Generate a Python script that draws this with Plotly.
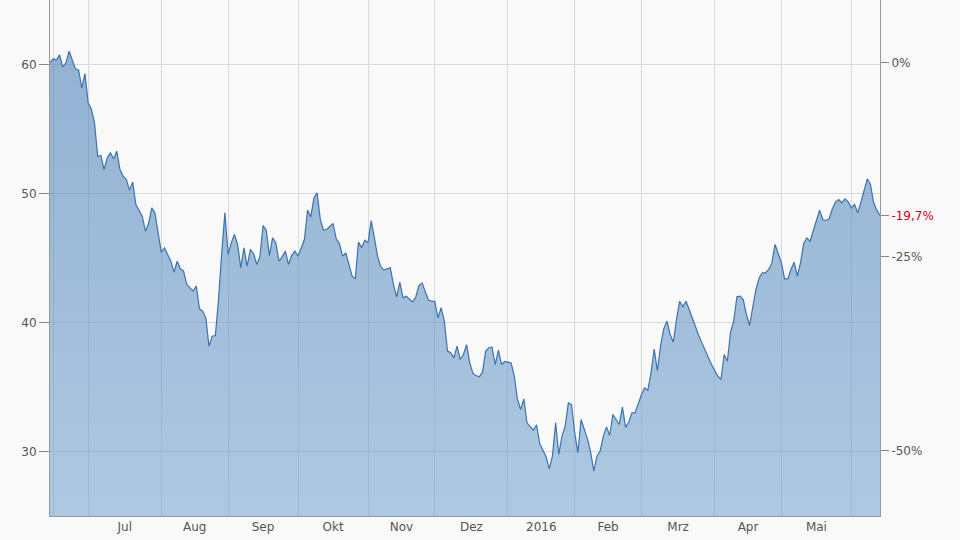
import plotly.graph_objects as go
import pandas as pd

# trading days (weekdays) covered by the chart
dates = pd.bdate_range("2015-06-15", "2016-06-14")

# closing prices, one per weekday
prices = [
    60.15, 60.44, 60.34, 60.75, 59.82, 60.13, 61.03, 60.26, 59.66, 59.56,
    58.19, 59.30, 57.03, 56.56, 55.48, 52.89, 52.95, 51.86, 52.77, 53.15,
    52.69, 53.28, 51.86, 51.34, 51.09, 50.26, 50.88, 49.15, 48.63, 48.24,
    47.08, 47.67, 48.89, 48.50, 46.95, 45.45, 45.79, 45.27, 44.75, 43.90,
    44.75, 44.16, 43.98, 42.95, 42.69, 42.43, 42.82, 41.06, 40.88, 40.36,
    38.16, 38.94, 38.99, 41.78, 45.40, 48.50, 45.27, 46.17, 46.82, 46.04,
    44.23, 45.79, 44.36, 45.66, 45.35, 44.50, 45.09, 47.52, 47.16, 45.19,
    46.56, 46.18, 44.75, 45.09, 45.53, 44.50, 45.19, 45.53, 45.14, 45.79,
    46.43, 48.71, 48.19, 49.66, 50.05, 47.98, 47.16, 47.21, 47.42, 47.67,
    46.49, 46.12, 45.14, 45.40, 44.50, 43.59, 43.38, 46.23, 45.79, 46.38,
    46.18, 47.90, 46.56, 45.14, 44.32, 44.06, 44.16, 44.24, 42.95, 41.99,
    43.13, 41.91, 42.04, 41.78, 41.60, 41.96, 42.87, 43.07, 42.43, 41.73,
    41.65, 41.63, 40.36, 41.14, 40.10, 37.78, 37.65, 37.26, 38.17, 37.13,
    37.52, 38.29, 36.87, 36.05, 35.89, 35.79, 36.15, 37.78, 38.04, 38.09,
    36.74, 37.86, 36.74, 36.98, 36.93, 36.87, 35.84, 34.03, 33.26, 34.08,
    32.22, 31.96, 31.65, 32.07, 30.62, 30.10, 29.59, 28.66, 29.64, 32.22,
    29.77, 31.19, 31.96, 33.77, 33.64, 31.45, 29.90, 32.48, 31.76, 30.98,
    29.95, 28.48, 29.64, 30.03, 31.19, 31.91, 31.24, 32.87, 32.48, 32.09,
    33.44, 31.89, 32.27, 33.00, 33.00, 33.77, 34.42, 34.93, 34.75, 36.10,
    37.93, 36.26, 38.17, 39.51, 40.10, 39.07, 38.47, 40.23, 41.65, 41.21,
    41.65, 41.01, 40.28, 39.59, 38.99, 38.42, 37.85, 37.26, 36.74, 36.30,
    35.85, 35.58, 37.52, 37.00, 39.25, 40.10, 41.99, 42.04, 41.78, 40.62,
    39.77, 41.21, 42.56, 43.46, 43.85, 43.85, 44.11, 44.62, 46.05, 45.35,
    44.62, 43.38, 43.38, 44.11, 44.68, 43.59, 44.62, 46.12, 46.56, 46.30,
    47.08, 47.93, 48.71, 47.98, 47.91, 48.04, 48.81, 49.33, 49.53, 49.28,
    49.59, 49.35, 48.89, 49.15, 48.50, 49.33, 50.26, 51.14, 50.70, 49.28,
    48.71, 48.30,
]

# trading-day index where each month gridline sits
month_starts = [1, 12, 35, 56, 78, 100, 121, 144, 165, 186, 209, 230, 252]
month_labels = ["Jul", "Aug", "Sep", "Okt", "Nov", "Dez", "2016", "Feb", "Mrz", "Apr", "Mai"]

left_ticks = [30, 40, 50, 60]
right_ticks = [0, -25, -50]
right_tick_text = ["0%", "-25%", "-50%"]

n = min(len(prices), len(dates))
idx = list(range(n))
prices = prices[:n]

base = prices[0]
pct = [(p / base - 1) * 100 for p in prices]
last_pct = pct[-1]
last_label = ("%.1f%%" % last_pct).replace(".", ",")

label_pos = [(month_starts[k] + month_starts[k + 1]) / 2 for k in range(1, len(month_starts) - 1)]

y_lo, y_hi = 25, 65

fig = go.Figure()
fig.add_trace(go.Scatter(
    x=idx, y=prices, mode="lines",
    line=dict(color="#3a74b0", width=1.2),
    fill="tozeroy",
    fillgradient=dict(type="vertical",
                      colorscale=[[0, "rgba(112,160,207,0.55)"], [1, "rgba(62,118,176,0.55)"]],
                      start=y_lo, stop=62),
    hoverinfo="skip", showlegend=False,
))
fig.add_trace(go.Scatter(
    x=idx, y=pct, yaxis="y2", mode="lines",
    line=dict(width=0, color="rgba(0,0,0,0)"), opacity=0,
    hoverinfo="skip", showlegend=False,
))

axis_line = "#999999"
grid = "#d9d9d9"

fig.update_layout(
    width=960, height=540,
    margin=dict(l=50, r=80, t=0, b=24, pad=0),
    paper_bgcolor="#f9f9f9", plot_bgcolor="#f9f9f9",
    showlegend=False,
    font=dict(family="DejaVu Sans, Verdana, sans-serif", size=12, color="#555555"),
    xaxis=dict(
        range=[0, n - 1], tickmode="array", tickvals=label_pos, ticktext=month_labels,
        showgrid=False, ticks="", showline=True, linecolor=axis_line, linewidth=1,
        zeroline=False,
        minor=dict(tickmode="array", tickvals=month_starts, showgrid=True,
                   gridcolor=grid, gridwidth=1, ticks=""),
    ),
    yaxis=dict(
        range=[y_lo, y_hi], tickmode="array", tickvals=left_ticks,
        showgrid=True, gridcolor=grid, gridwidth=1,
        ticks="outside", ticklen=10, tickcolor="#888888", tickwidth=1,
        showline=True, linecolor=axis_line, linewidth=1, zeroline=False,
    ),
    yaxis2=dict(
        overlaying="y", side="right", anchor="x",
        range=[(y_lo / base - 1) * 100, (y_hi / base - 1) * 100],
        tickmode="array",
        tickvals=right_ticks + [last_pct],
        ticktext=right_tick_text + ['<span style="color:#d0001f">' + last_label + "</span>"],
        showgrid=False, ticks="outside", ticklen=8, tickcolor="#888888", tickwidth=1,
        showline=True, linecolor=axis_line, linewidth=1, zeroline=False,
    ),
)

fig.write_html(
    "out.html",
    config={"displayModeBar": False},
    post_script="document.body.style.margin='0';document.body.style.background='#f9f9f9';",
)
